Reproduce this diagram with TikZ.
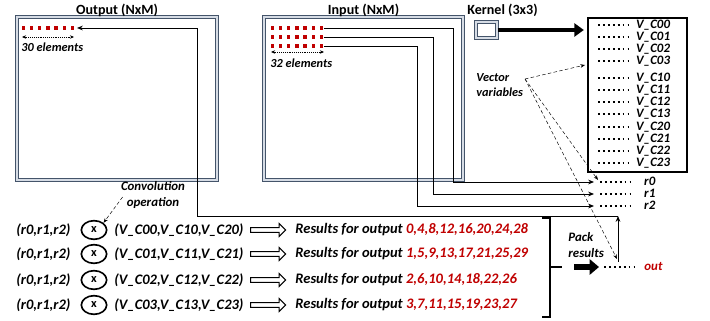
\documentclass[tikz,border=0pt]{standalone}
\usepackage{fontspec}
\setmainfont{Carlito}
\usepackage{xcolor}
\usetikzlibrary{arrows.meta,shapes.geometric,shapes.arrows,positioning,calc}

\definecolor{frameblue}{HTML}{44546A}
\definecolor{framelight}{HTML}{D6DCE5}
\definecolor{darkred}{HTML}{C00000}

\tikzset{
    frame/.style={draw=frameblue, line width=0.9pt, double=framelight, double distance=1.4pt, inner sep=0pt},
    title/.style={font=\bfseries\fontsize{12}{14}\selectfont, inner sep=1pt},
    lbl/.style={font=\bfseries\itshape\fontsize{11}{13}\selectfont, inner sep=1pt},
    small/.style={font=\bfseries\itshape\fontsize{10.5}{12}\selectfont, inner sep=1pt},
    rowlbl/.style={font=\bfseries\itshape\fontsize{12.4}{14}\selectfont, inner sep=1pt, anchor=west},
    tight/.style={font=\bfseries\itshape\fontsize{11}{11}\selectfont, inner sep=0pt, text height=6.5pt, text depth=1pt, anchor=west},
    dotrow/.style={line width=1.6pt, dash pattern=on 1.6pt off 2.6pt},
    wire/.style={line width=0.8pt, -{Stealth[length=5pt,width=4pt]}},
    hint/.style={densely dashed, line width=0.4pt, -{Stealth[length=4pt,width=3pt]}},
    span/.style={densely dotted, line width=0.6pt, {Stealth[length=3.5pt,width=3pt]}-{Stealth[length=3.5pt,width=3pt]}},
    mulop/.style={ellipse, draw, line width=1.4pt, minimum width=0.76cm, minimum height=0.56cm, inner sep=0pt, font=\bfseries\fontsize{10.5}{11}\selectfont},
    hollow/.style={single arrow, draw, line width=0.9pt, inner sep=1.5pt, minimum height=1.05cm,
        single arrow head extend=3.5pt, single arrow head indent=0pt, anchor=west},
}

\begin{document}
\begin{tikzpicture}[x=0.03cm, y=-0.03cm]
    \useasboundingbox (0,0) rectangle (710,321);

    % ---------------- Matrices ----------------
    \node[frame, minimum width=6cm, minimum height=4.89cm] (outframe) at (117,98.5) {};
    \node[frame, minimum width=5.97cm, minimum height=4.89cm] (inframe) at (363.5,98.5) {};
    \node[frame, minimum width=0.63cm, minimum height=0.48cm] (kernel) at (486.5,30) {};
    \node[title] (outtitle) at (117,10) {Output (NxM)};
    \node[title] (intitle) at (363.5,10) {Input (NxM)};
    \node[title, anchor=west] (kertitle) at (466,10) {Kernel (3x3)};

    % ---------------- Red elements ----------------
    \foreach \i in {0,...,6} {
        \fill[darkred] (21.5+8.2*\i,26.3) rectangle ++(3.4,3.4);
    }
    \foreach \r/\yr in {0/28,1/37,2/46} {
        \foreach \i in {0,...,6} {
            \fill[darkred] (270.5+8.2*\i,\yr-1.7) rectangle ++(3.4,3.4);
        }
    }
    \coordinate (os0) at (22,37);
    \coordinate (os1) at (74,37);
    \draw[span] (os0) -- (os1);
    \node[small, anchor=west] (outcount) at (20,47) {30 elements};
    \coordinate (is0) at (271,52);
    \coordinate (is1) at (324,52);
    \draw[span] (is0) -- (is1);
    \node[small, anchor=west] (incount) at (269,63) {32 elements};

    % ---------------- Vector variables ----------------
    \node[draw, line width=1.1pt, minimum width=2.97cm, minimum height=4.62cm, inner sep=0pt] (vecbox) at (637.5,95) {};
    \draw[line width=4pt, -{Triangle[length=8pt,width=11pt]}, shorten >=3pt]
        (kernel.east) -- (kernel.east -| vecbox.west);
    \foreach \nm/\y in {00/25,01/37,02/49,03/61,10/78,11/90,12/102,13/114,20/127,21/139,22/151,23/163} {
        \draw[dotrow] (598,\y) -- (628,\y);
        \node[tight] (vc\nm) at (636,\y) {V\_C\nm};
    }

    % ---------------- Input rows to registers ----------------
    \foreach \k/\yr/\yk/\xv in {0/28/182/453,1/37/194/433,2/46/206/417} {
        \coordinate (in\k) at (324,\yr);
        \coordinate (bend\k) at (\xv,\yk);
        \coordinate (rin\k) at (594,\yk);
        \draw[dotrow] (600,\yk) -- (630,\yk);
        \node[tight] (r\k) at (644,\yk) {r\k};
        \draw[wire] (in\k) -| (bend\k) -- (rin\k);
    }

    \node[small, align=left, anchor=west] (vecvars) at (475,85) {Vector\\[1pt]variables};
    \coordinate (vv) at (525,79);
    \coordinate (vecin) at (585,65);
    \coordinate (rtip) at (598,180);
    \coordinate (outtip) at (617,259);
    \draw[hint] (vv) -- (vecin);
    \draw[hint] (vv) -- (rtip);
    \draw[hint] (vv) -- (outtip);

    % ---------------- Convolution rows ----------------
    \node[lbl, align=center] (convop) at (153,195) {Convolution\\[1pt]operation};
    \foreach \n/\y/\cols/\res in {
        0/230/{V\_C00,V\_C10,V\_C20}/{0,4,8,12,16,20,24,28},
        1/254/{V\_C01,V\_C11,V\_C21}/{1,5,9,13,17,21,25,29},
        2/280/{V\_C02,V\_C12,V\_C22}/{2,6,10,14,18,22,26},
        3/305/{V\_C03,V\_C13,V\_C23}/{3,7,11,15,19,23,27}} {
        \node[rowlbl] (regs\n) at (15,\y) {(r0,r1,r2)};
        \node[mulop] (mul\n) at (94,\y) {x};
        \node[rowlbl] (vecs\n) at (113,\y) {(\cols)};
        \node[hollow] (res\n) at (250,\y) {};
        \node[rowlbl] (out\n) at (294,\y) {Results for output \textcolor{darkred}{\res}};
    }
    \draw[hint] ($(convop.west)+(3,2)$) -- (mul0.north east);

    % ---------------- Pack results ----------------
    \draw[line width=1pt] (542,218) -- (550,218) -- (550,317) -- (542,317);
    \draw[line width=1.4pt] (550,267) -- (562,267);
    \node[lbl, align=left, anchor=west] (pack) at (567,245) {Pack\\[1pt]results};
    \coordinate (p0) at (574,267);
    \coordinate (p1) at (599,267);
    \draw[line width=5pt, -{Triangle[length=8pt,width=13pt]}] (p0) -- (p1);
    \draw[dotrow] (604,267) -- (634,267);
    \node[lbl, text=darkred, anchor=west] (outreg) at (643,266) {out};

    % ---------------- Back to output ----------------
    \coordinate (packup) at (618,262);
    \coordinate (packtop) at (618,216);
    \coordinate (loopc) at (197,28);
    \coordinate (outsq) at (77,28);
    \draw[wire] (packup) -- (packtop);
    \draw[wire] (packtop) -| (loopc) -- (outsq);

\end{tikzpicture}
\end{document}
